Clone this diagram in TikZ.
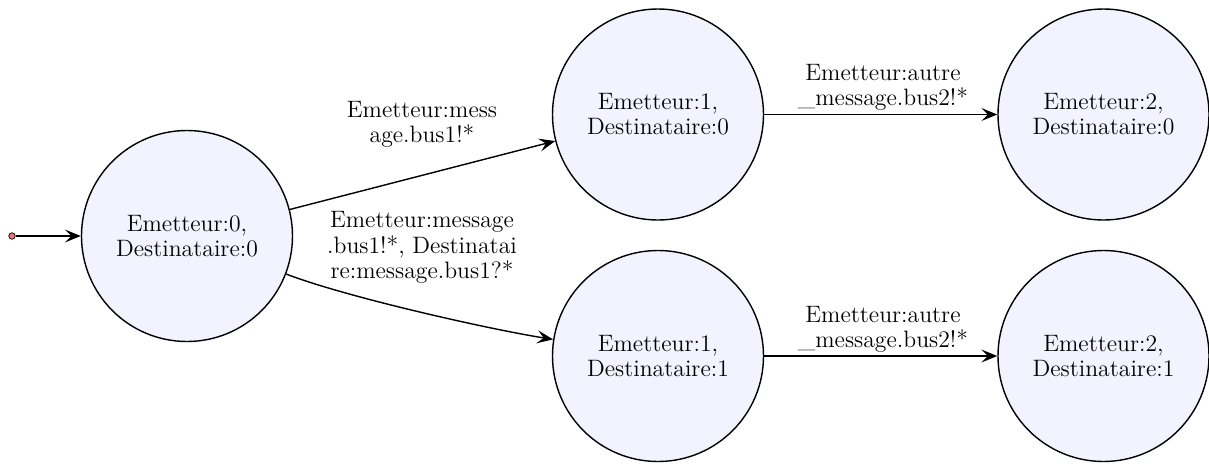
\documentclass[tikz,border=0pt]{standalone}
\usepackage{tikz}
\usetikzlibrary{arrows.meta}

\definecolor{statefill}{RGB}{243,243,255}
\definecolor{startfill}{RGB}{232,120,120}

\tikzset{
  state/.style={circle, draw, line width=0.8pt, fill=statefill, minimum size=4.22cm,
    align=center, inner sep=0pt, font=\fontsize{13.5}{14.4}\selectfont},
  trans/.style={line width=0.8pt, -{Stealth[length=3.2mm, width=2.6mm, inset=1.3mm]}},
  lbl/.style={align=center, inner sep=0pt, font=\fontsize{13.5}{14.4}\selectfont}
}

\begin{document}
\begin{tikzpicture}
  \useasboundingbox (0,0) rectangle (24.18,-9.26);

  \node[state] (s00) at (3.74,-4.72) {Emetteur:0,\\Destinataire:0};
  \node[state] (s10) at (13.16,-2.29) {Emetteur:1,\\Destinataire:0};
  \node[state] (s11) at (13.16,-7.12) {Emetteur:1,\\Destinataire:1};
  \node[state] (s20) at (22.07,-2.29) {Emetteur:2,\\Destinataire:0};
  \node[state] (s21) at (22.07,-7.12) {Emetteur:2,\\Destinataire:1};

  % initial state
  \node[circle, draw, fill=startfill, inner sep=0pt, minimum size=0.13cm] (init) at (0.24,-4.72) {};
  \draw[trans] (init) -- (s00);

  \draw[trans] (s00) -- (s10);
  \draw[trans] (s00) to[out=-21, in=171, looseness=0.6] (s11);
  \draw[trans] (s10) -- (s20);
  \draw[trans] (s11) -- (s21);

  \node[lbl] (l1) at (8.44,-2.49) {Emetteur:mess\\age.bus1!*};
  \node[lbl] (l2) at (8.44,-4.95) {Emetteur:message\\.bus1!*, Destinatai\\re:message.bus1?*};
  \node[lbl] (l3) at (17.66,-1.75) {Emetteur:autre\\\_message.bus2!*};
  \node[lbl] (l4) at (17.66,-6.59) {Emetteur:autre\\\_message.bus2!*};
\end{tikzpicture}
\end{document}
